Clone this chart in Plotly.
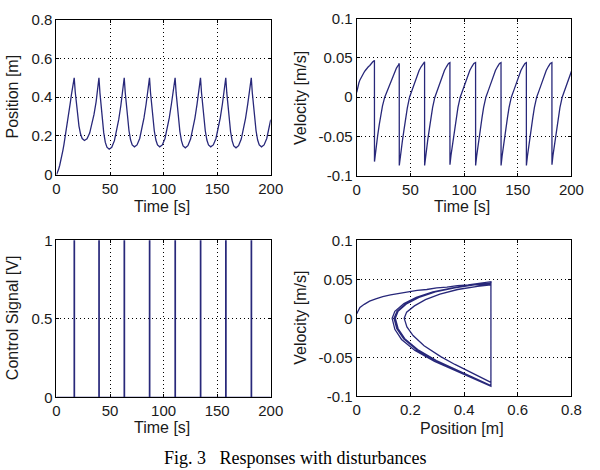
import plotly.graph_objects as go

# ---------------- data ----------------
time_s = [
    0, 1, 2, 3, 4, 5, 6, 7, 8, 9, 10, 11, 12, 13, 14, 15, 16,
    16.5, 16.55, 17.5, 18.5, 19.5, 21.0, 22.5, 24.0, 26.1, 28.5, 31.0, 33.0, 35.0, 37.0, 38.8,
    39.6, 39.65, 40.6, 41.6, 42.6, 44.1, 45.6, 47.1, 49.2, 51.6, 54.1, 56.1, 58.1, 60.1, 61.9,
    63.2, 63.25, 64.2, 65.2, 66.2, 67.7, 69.2, 70.7, 72.8, 75.2, 77.7, 79.7, 81.7, 83.7, 85.5,
    86.8, 86.85, 87.8, 88.8, 89.8, 91.3, 92.8, 94.3, 96.4, 98.8, 101.3, 103.3, 105.3, 107.3, 109.1,
    110.7, 110.75, 111.7, 112.7, 113.7, 115.2, 116.7, 118.2, 120.3, 122.7, 125.2, 127.2, 129.2, 131.2, 133.0,
    134.4, 134.45, 135.4, 136.4, 137.4, 138.9, 140.4, 141.9, 144.0, 146.4, 148.9, 150.9, 152.9, 154.9, 156.7,
    158.0, 158.05, 159.0, 160.0, 161.0, 162.5, 164.0, 165.5, 167.6, 170.0, 172.5, 174.5, 176.5, 178.5, 180.3,
    181.8, 181.85, 182.8, 183.8, 184.8, 186.3, 187.8, 189.3, 191.4, 193.8, 196.3, 198.3, 200.0,
]
position_m = [
    0.000, 0.012, 0.028, 0.048, 0.071, 0.097, 0.126, 0.157, 0.190, 0.225, 0.261, 0.298, 0.336, 0.375, 0.415, 0.455, 0.486,
    0.500, 0.500, 0.428, 0.366, 0.313, 0.251, 0.210, 0.187, 0.177, 0.186, 0.215, 0.256, 0.310, 0.376, 0.450,
    0.500, 0.500, 0.421, 0.351, 0.290, 0.217, 0.167, 0.142, 0.132, 0.142, 0.176, 0.222, 0.284, 0.357, 0.432,
    0.500, 0.500, 0.423, 0.355, 0.297, 0.227, 0.179, 0.154, 0.144, 0.154, 0.187, 0.232, 0.293, 0.365, 0.438,
    0.500, 0.500, 0.423, 0.355, 0.297, 0.227, 0.179, 0.154, 0.144, 0.154, 0.187, 0.232, 0.293, 0.365, 0.438,
    0.500, 0.500, 0.422, 0.353, 0.294, 0.223, 0.175, 0.149, 0.139, 0.150, 0.184, 0.230, 0.291, 0.363, 0.437,
    0.500, 0.500, 0.423, 0.355, 0.297, 0.227, 0.179, 0.154, 0.144, 0.154, 0.187, 0.232, 0.293, 0.365, 0.438,
    0.500, 0.500, 0.422, 0.353, 0.294, 0.223, 0.175, 0.149, 0.139, 0.150, 0.184, 0.230, 0.291, 0.363, 0.437,
    0.500, 0.500, 0.423, 0.355, 0.297, 0.227, 0.179, 0.154, 0.144, 0.154, 0.187, 0.232, 0.284,
]
velocity_ms = [
    0.006, 0.014, 0.018, 0.022, 0.025, 0.028, 0.030, 0.032, 0.034, 0.036, 0.037, 0.039, 0.040, 0.042, 0.043, 0.045, 0.046,
    0.047, -0.082, -0.070, -0.059, -0.049, -0.035, -0.022, -0.011, 0.000, 0.008, 0.016, 0.024, 0.031, 0.037, 0.041,
    0.043, -0.087, -0.075, -0.065, -0.055, -0.041, -0.027, -0.014, 0.000, 0.009, 0.019, 0.027, 0.034, 0.039, 0.043,
    0.045, -0.087, -0.075, -0.064, -0.054, -0.040, -0.026, -0.013, 0.000, 0.009, 0.019, 0.027, 0.034, 0.039, 0.043,
    0.044, -0.086, -0.074, -0.064, -0.054, -0.040, -0.026, -0.013, 0.000, 0.009, 0.019, 0.027, 0.034, 0.039, 0.043,
    0.044, -0.087, -0.075, -0.064, -0.054, -0.040, -0.026, -0.013, 0.000, 0.009, 0.019, 0.027, 0.034, 0.039, 0.043,
    0.044, -0.087, -0.075, -0.064, -0.054, -0.040, -0.026, -0.013, 0.000, 0.009, 0.019, 0.027, 0.034, 0.039, 0.043,
    0.044, -0.087, -0.075, -0.064, -0.054, -0.040, -0.026, -0.013, 0.000, 0.009, 0.019, 0.027, 0.034, 0.039, 0.043,
    0.044, -0.086, -0.074, -0.064, -0.054, -0.040, -0.026, -0.013, 0.000, 0.009, 0.019, 0.027, 0.033,
]
pulse_times = [16.5, 39.6, 63.2, 86.8, 110.7, 134.4, 158.0, 181.8]
pulse_width = 0.3

time_ticks = [0, 50, 100, 150, 200]
pos_ticks = [0, 0.2, 0.4, 0.6, 0.8]
pos_ticktext = ["0", "0.2", "0.4", "0.6", "0.8"]
vel_ticks = [-0.1, -0.05, 0, 0.05, 0.1]
vel_ticktext = ["-0.1", "-0.05", "0", "0.05", "0.1"]
ctrl_ticks = [0, 0.5, 1]
ctrl_ticktext = ["0", "0.5", "1"]

caption = "Fig. 3\u00a0\u00a0\u00a0Responses with disturbances"

# control signal step series built from pulse times
ctrl_t, ctrl_u = [0], [0]
for p in pulse_times:
    ctrl_t += [p, p, p + pulse_width, p + pulse_width]
    ctrl_u += [0, 1, 1, 0]
ctrl_t.append(200)
ctrl_u.append(0)

LINE = dict(color="#28287a", width=1.3)
FONT = "Liberation Sans, Arial, sans-serif"
TXT = "#1a1a1a"

fig = go.Figure()
fig.add_trace(go.Scatter(x=time_s, y=position_m, mode="lines", line=LINE, xaxis="x", yaxis="y"))
fig.add_trace(go.Scatter(x=time_s, y=velocity_ms, mode="lines", line=LINE, xaxis="x2", yaxis="y2"))
fig.add_trace(go.Scatter(x=ctrl_t, y=ctrl_u, mode="lines", line=dict(color="#28287a", width=1.4), xaxis="x3", yaxis="y3"))
fig.add_trace(go.Scatter(x=position_m, y=velocity_ms, mode="lines", line=LINE, xaxis="x4", yaxis="y4"))

W, H = 600, 470
def px_x(a, b):
    return [a / W, b / W]
def px_y(top, bottom):
    return [1 - bottom / H, 1 - top / H]

axis_common = dict(
    showline=True, linecolor="black", linewidth=1, mirror="ticks",
    ticks="inside", ticklen=3, tickcolor="black",
    showgrid=True, gridcolor="black", gridwidth=1, griddash="1px,3px",
    zeroline=False, tickfont=dict(family=FONT, size=15, color=TXT),
    fixedrange=True,
)

def xax(domain, anchor, rng, tv, tt):
    d = dict(axis_common)
    d.update(domain=domain, anchor=anchor, range=rng, tickmode="array", tickvals=tv, ticktext=tt)
    return d

layout = dict(
    width=W, height=H, margin=dict(l=0, r=0, t=0, b=0),
    paper_bgcolor="white", plot_bgcolor="white", showlegend=False,
    xaxis=xax(px_x(54, 274.5), "y", [0, 200], time_ticks, [str(v) for v in time_ticks]),
    yaxis=xax(px_y(11, 172), "x", [0, 0.8], pos_ticks, pos_ticktext),
    xaxis2=xax(px_x(363, 584), "y2", [0, 200], time_ticks, [str(v) for v in time_ticks]),
    yaxis2=xax(px_y(10, 173), "x2", [-0.1, 0.1], vel_ticks, vel_ticktext),
    xaxis3=xax(px_x(54, 274.5), "y3", [0, 200], time_ticks, [str(v) for v in time_ticks]),
    yaxis3=xax(px_y(240, 403), "x3", [0, 1], ctrl_ticks, ctrl_ticktext),
    xaxis4=xax(px_x(363, 584), "y4", [0, 0.8], pos_ticks, pos_ticktext),
    yaxis4=xax(px_y(240, 402), "x4", [-0.1, 0.1], vel_ticks, vel_ticktext),
)
fig.update_layout(**layout)

def ann(text, x, y, angle=0, size=16, family=FONT):
    fig.add_annotation(text=text, x=x / W, y=1 - y / H, xref="paper", yref="paper",
                       showarrow=False, textangle=angle, xanchor="center", yanchor="middle",
                       font=dict(family=family, size=size, color=TXT))

ann("Time [s]", 163, 205)
ann("Position [m]", 9, 91, -90)
ann("Time [s]", 471, 205)
ann("Velocity [m/s]", 305, 92, -90)
ann("Time [s]", 163, 434)
ann("Control Signal [V]", 9, 320, -90)
ann("Position [m]", 471, 435)
ann("Velocity [m/s]", 305, 320, -90)
fig.add_annotation(text=caption, x=300 / W, y=-8 / H, xref="paper", yref="paper",
                   showarrow=False, xanchor="center", yanchor="bottom",
                   font=dict(family="Liberation Serif, Times New Roman, serif", size=18, color="black"))

fig.write_html("out.html")
